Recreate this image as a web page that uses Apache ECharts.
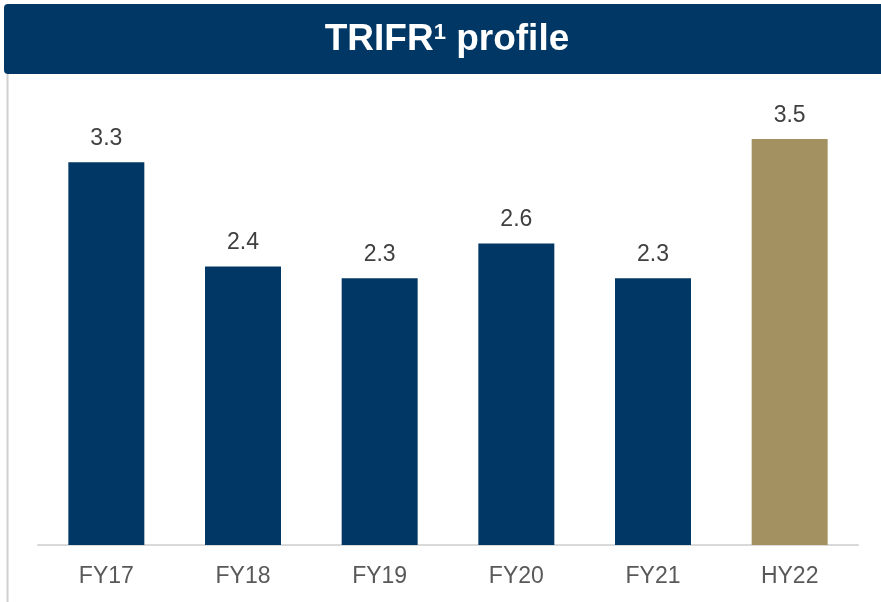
<!DOCTYPE html>
<html><head><meta charset="utf-8">
<script src="https://cdn.jsdelivr.net/npm/echarts@6/dist/echarts.min.js"></script>
<style>html,body{margin:0;padding:0;background:#fff}#c{width:881px;height:602px}</style>
</head><body><div id="c"></div>
<script>
const categories = ['FY17','FY18','FY19','FY20','FY21','HY22'];
const values = [3.3, 2.4, 2.3, 2.6, 2.3, 3.5];
const barColors = ['#003764','#003764','#003764','#003764','#003764','#A39161'];
const titleMain = 'TRIFR';
const titleSup = '1';
const titleRest = ' profile';

const chart = echarts.init(document.getElementById('c'));
chart.setOption({
  animation: false,
  grid: {left: 38, right: 23, top: 81, bottom: 57},
  graphic: [
    {type: 'rect', shape: {x: 4, y: 4, width: 890, height: 70, r: 4}, style: {fill: '#003764'}},
    {type: 'text', x: 447, y: 40, style: {
      text: '{a|' + titleMain + '}{s|' + titleSup + '}{a|' + titleRest + '}',
      align: 'center', verticalAlign: 'middle',
      rich: {
        a: {fill: '#fff', fontSize: 37, fontWeight: 'bold', fontFamily: '"Liberation Sans", Arial, sans-serif'},
        s: {fill: '#fff', fontSize: 22, fontWeight: 'bold', fontFamily: '"Liberation Sans", Arial, sans-serif', verticalAlign: 'top', padding: [0, 0, 14, 0]}
      }
    }},
    {type: 'line', shape: {x1: 7.5, y1: 74, x2: 7.5, y2: 602}, style: {stroke: '#d0d0d0', lineWidth: 2}}
  ],
  xAxis: {
    type: 'category', data: categories,
    axisLine: {lineStyle: {color: '#d9d9d9', width: 2}},
    axisTick: {show: false},
    axisLabel: {color: '#595959', fontSize: 23, fontFamily: '"Liberation Sans", Arial, sans-serif', margin: 20}
  },
  yAxis: {type: 'value', min: 0, max: 4, show: false, splitLine: {show: false}},
  series: [{
    type: 'bar', barWidth: '55.6%',
    data: values.map((v, i) => ({value: v, itemStyle: {color: barColors[i]}})),
    label: {show: true, position: 'top', distance: 12, color: '#404040', fontSize: 23,
      fontFamily: '"Liberation Sans", Arial, sans-serif', formatter: p => p.value.toFixed(1)}
  }]
});
</script></body></html>
